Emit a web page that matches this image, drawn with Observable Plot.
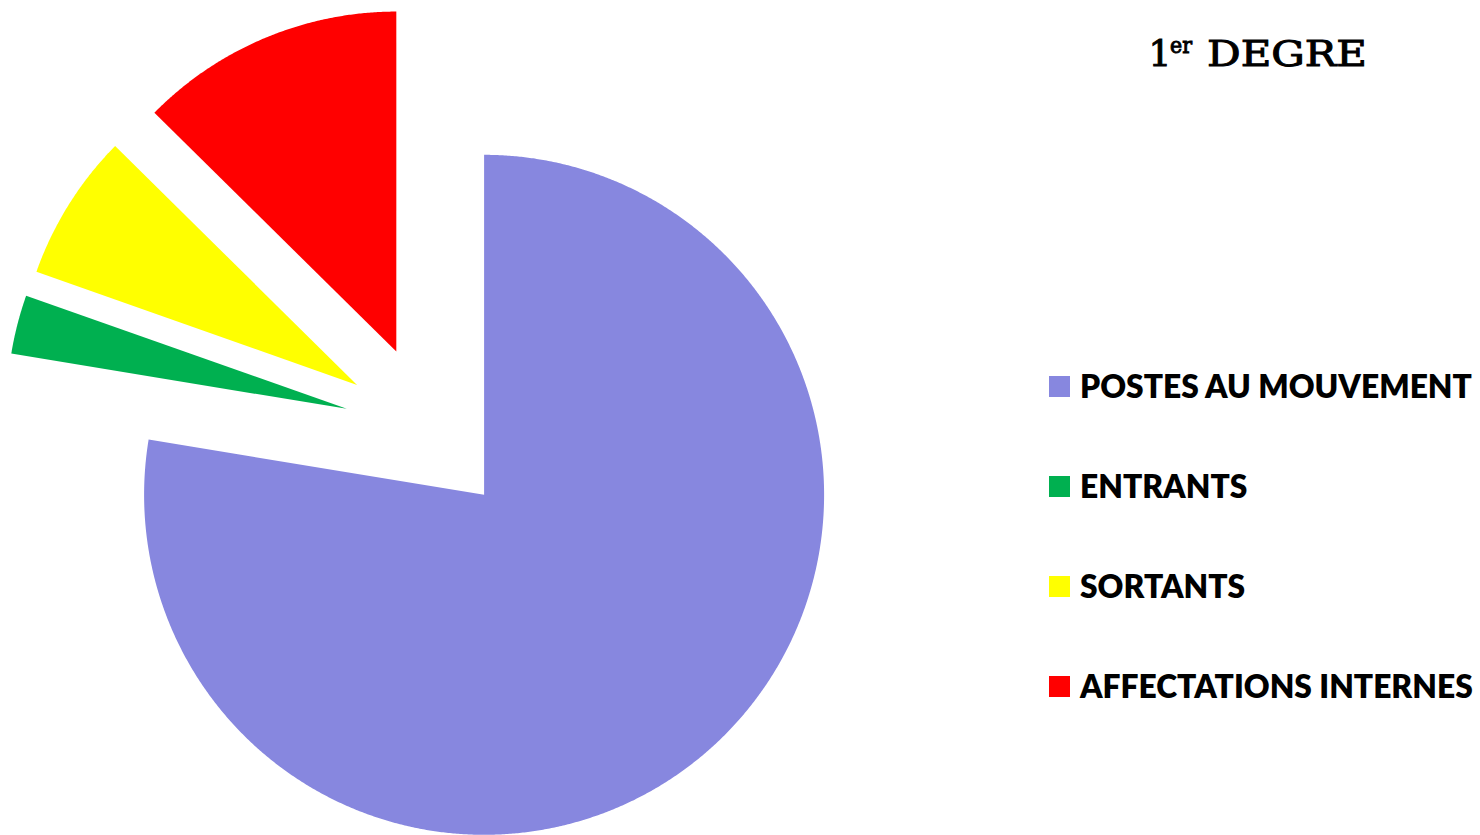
<!DOCTYPE html>
<html>
<head>
<meta charset="utf-8">
<script src="https://cdn.jsdelivr.net/npm/d3@7"></script>
<script src="https://cdn.jsdelivr.net/npm/@observablehq/plot@0.6"></script>
<style>
  html, body { margin: 0; padding: 0; background: #fff; }
  #wrap { position: relative; width: 1480px; height: 835px; overflow: hidden; }
  #chart { position: absolute; left: 0; top: 0; }
  #title { position: absolute; left: 1100px; top: 0; }
  #title text { font-family: "DejaVu Serif", serif; fill: #000; stroke: #000; stroke-width: 1px; }
  .leg { position: absolute; left: 1049px; display: flex; align-items: center; white-space: nowrap; font-family: Lato, sans-serif; font-weight: 800; color: #000; }
  .leg .sw { width: 21px; height: 21px; margin-right: 10px; flex: none; }
</style>
</head>
<body>
<div id="wrap">
  <div id="chart"></div>
  <svg id="title" width="380" height="100">
    <text x="48.5" y="66" font-size="36">1</text>
    <text x="70" y="53" font-size="23" textLength="22" lengthAdjust="spacingAndGlyphs">er</text>
    <text x="107" y="66" font-size="36" textLength="160" lengthAdjust="spacingAndGlyphs">DEGRE</text>
  </svg>
  <div id="legend"></div>
</div>
<script>
// ---- data ----
const categories = ["POSTES AU MOUVEMENT", "ENTRANTS", "SORTANTS", "AFFECTATIONS INTERNES"];
const values = [776, 28, 70, 126];
const colors = ["#8787df", "#00b050", "#ffff00", "#ff0000"];
const explode = 0.25; // fraction of radius each slice is pulled out

// ---- build slice outlines from the values ----
const arcs = d3.pie().sort(null).value(d => d.value)(categories.map((name, i) => ({name, value: values[i]})));
const rows = [];
arcs.forEach(a => {
  const mid = (a.startAngle + a.endAngle) / 2;
  const ox = explode * Math.sin(mid), oy = explode * Math.cos(mid);
  rows.push({name: a.data.name, x: ox, y: oy});
  const n = Math.max(2, Math.ceil((a.endAngle - a.startAngle) / 0.005));
  for (let k = 0; k <= n; k++) {
    const t = a.startAngle + (a.endAngle - a.startAngle) * k / n;
    rows.push({name: a.data.name, x: ox + Math.sin(t), y: oy + Math.cos(t)});
  }
});

const W = 1000, H = 835, R = 340, cx = 428.6, cy = 429.5;
const chart = Plot.plot({
  width: W, height: H,
  margin: 0,
  x: {domain: [-cx / R, (W - cx) / R], axis: null},
  y: {domain: [(cy - H) / R, cy / R], axis: null},
  color: {domain: categories, range: colors},
  marks: [
    Plot.line(rows, {x: "x", y: "y", z: "name", fill: "name", stroke: null, curve: "linear-closed"})
  ]
});
document.getElementById("chart").appendChild(chart);

// ---- legend ----
const legend = document.getElementById("legend");
const ctx = document.createElement("canvas").getContext("2d");
ctx.font = '800 100px Lato';
const fs = 100 * 393 / ctx.measureText(categories[0]).width;
categories.forEach((c, i) => {
  const d = document.createElement("div");
  d.className = "leg";
  d.style.fontSize = fs + "px";
  d.style.top = (386 + 100 * i - 20) + "px";
  d.style.height = "40px";
  d.innerHTML = `<span class="sw" style="background:${colors[i]}"></span><span>${c}</span>`;
  legend.appendChild(d);
});
</script>
</body>
</html>
